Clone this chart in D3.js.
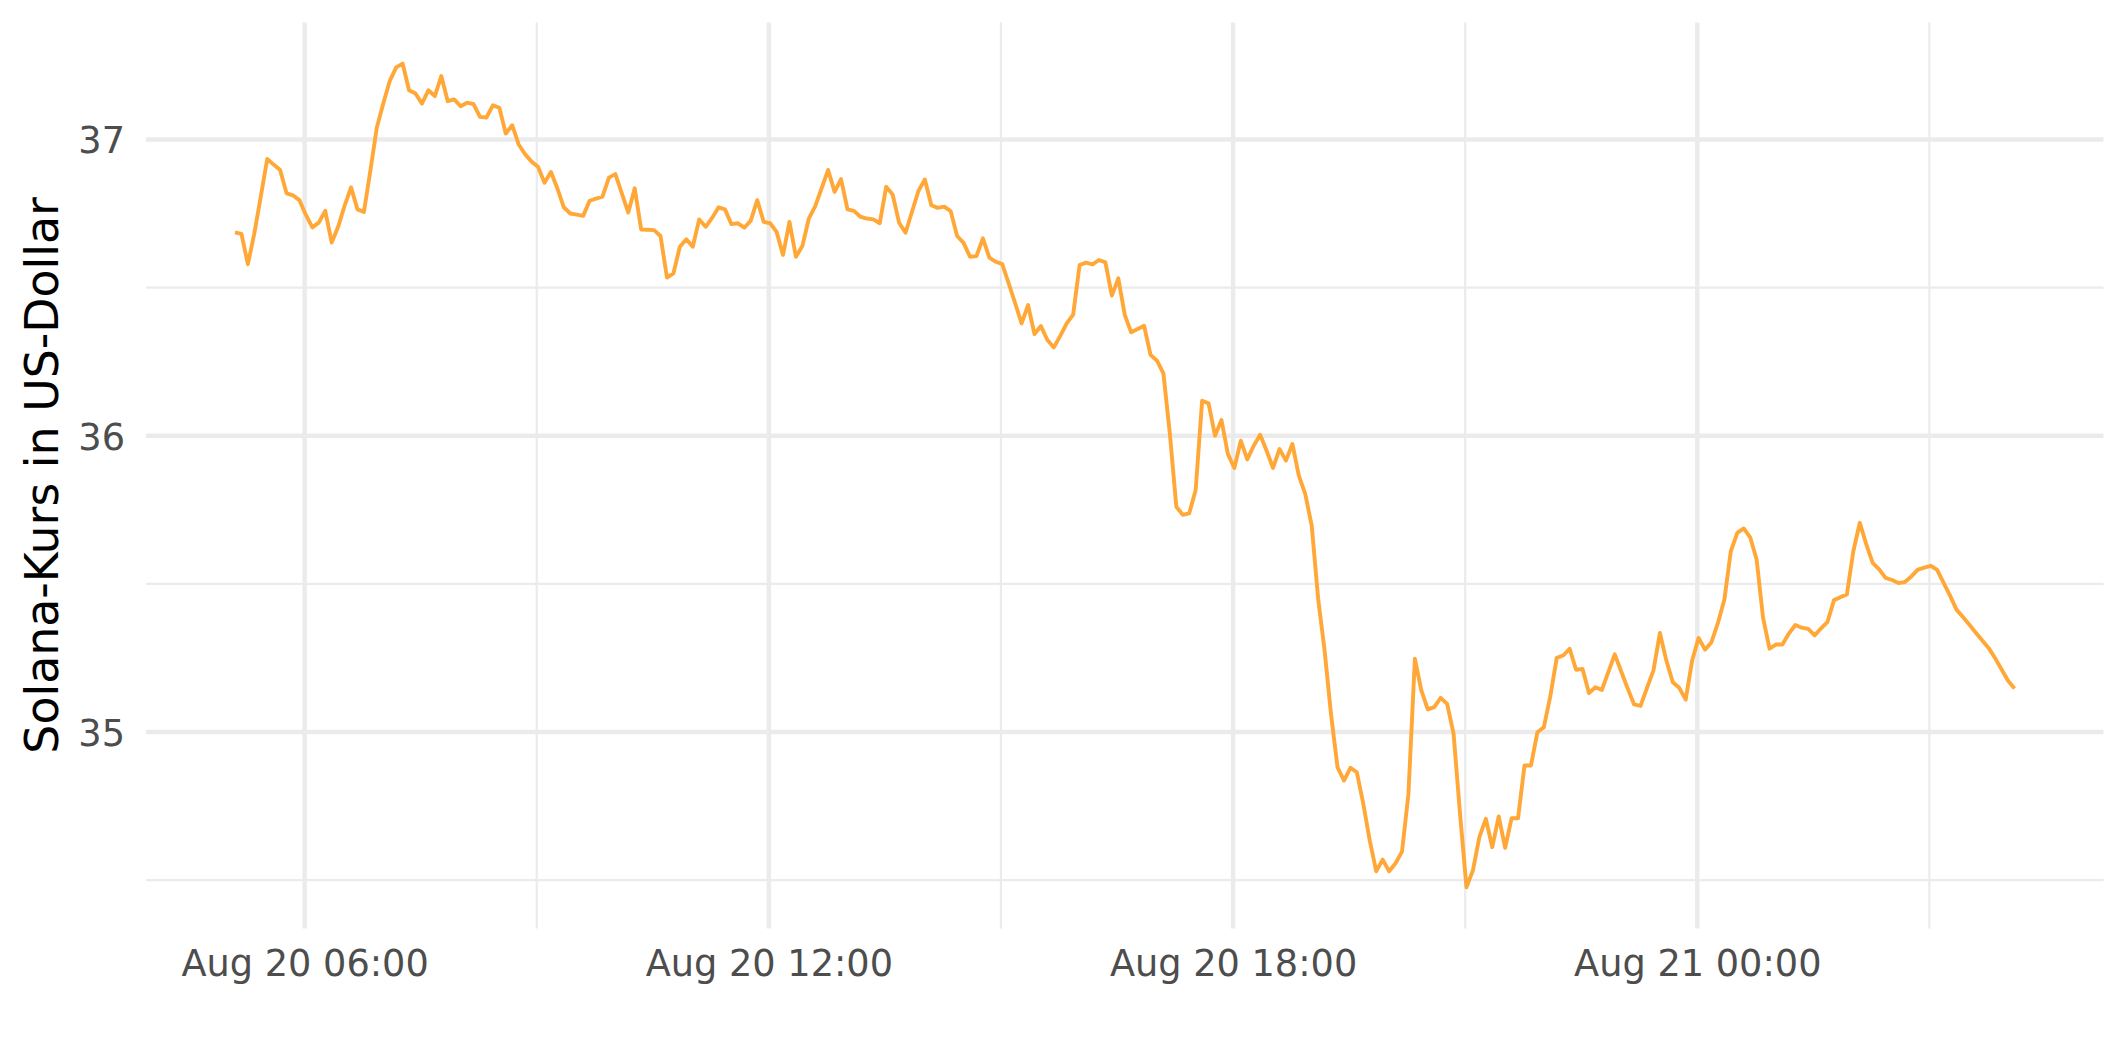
<!DOCTYPE html>
<html>
<head>
<meta charset="utf-8">
<script src="https://cdn.jsdelivr.net/npm/d3@7"></script>
<style>
  html, body { margin: 0; padding: 0; background: #ffffff; }
  svg { display: block; }
</style>
</head>
<body>
<svg id="chart" width="2125" height="1062"></svg>
<script>
// ---------------- data ----------------
const seriesName = "Solana-Kurs in US-Dollar";
const startTime = "2022-08-20T05:06:00Z";   // first observation (UTC)
const stepMinutes = 5;                        // sampling interval
const prices = [
  36.686, 36.681, 36.579, 36.683, 36.807, 36.934, 36.915, 36.897, 36.818, 36.811,
  36.795, 36.745, 36.703, 36.719, 36.759, 36.652, 36.705, 36.776, 36.838, 36.764,
  36.755, 36.895, 37.040, 37.121, 37.197, 37.243, 37.256, 37.166, 37.155, 37.121,
  37.166, 37.146, 37.214, 37.129, 37.135, 37.112, 37.124, 37.119, 37.076, 37.074,
  37.115, 37.107, 37.020, 37.048, 36.983, 36.950, 36.925, 36.908, 36.854, 36.890,
  36.835, 36.771, 36.750, 36.746, 36.742, 36.793, 36.800, 36.807, 36.871, 36.883,
  36.818, 36.753, 36.835, 36.696, 36.695, 36.694, 36.674, 36.534, 36.548, 36.638,
  36.663, 36.638, 36.730, 36.705, 36.735, 36.771, 36.764, 36.714, 36.717, 36.702,
  36.726, 36.795, 36.722, 36.717, 36.688, 36.610, 36.722, 36.604, 36.640, 36.733,
  36.775, 36.836, 36.897, 36.823, 36.866, 36.764, 36.759, 36.739, 36.733, 36.730,
  36.717, 36.840, 36.814, 36.719, 36.685, 36.756, 36.826, 36.865, 36.778, 36.769,
  36.773, 36.758, 36.674, 36.651, 36.604, 36.606, 36.666, 36.601, 36.587, 36.579,
  36.514, 36.447, 36.379, 36.441, 36.343, 36.370, 36.323, 36.298, 36.337, 36.379,
  36.409, 36.576, 36.584, 36.578, 36.593, 36.585, 36.473, 36.531, 36.408, 36.349,
  36.360, 36.371, 36.273, 36.253, 36.210, 36.006, 35.760, 35.733, 35.738, 35.817,
  36.118, 36.109, 36.000, 36.053, 35.938, 35.891, 35.983, 35.920, 35.966, 36.003,
  35.949, 35.891, 35.955, 35.916, 35.972, 35.865, 35.803, 35.696, 35.449, 35.274,
  35.058, 34.881, 34.836, 34.879, 34.864, 34.757, 34.633, 34.530, 34.569, 34.530,
  34.557, 34.596, 34.791, 35.247, 35.140, 35.076, 35.084, 35.115, 35.095, 34.994,
  34.724, 34.476, 34.533, 34.645, 34.707, 34.611, 34.715, 34.609, 34.709, 34.709,
  34.887, 34.887, 34.999, 35.016, 35.120, 35.250, 35.258, 35.281, 35.210, 35.213,
  35.131, 35.151, 35.142, 35.202, 35.262, 35.204, 35.147, 35.093, 35.088, 35.149,
  35.208, 35.334, 35.241, 35.168, 35.149, 35.109, 35.241, 35.317, 35.278, 35.303,
  35.368, 35.447, 35.610, 35.672, 35.687, 35.657, 35.582, 35.385, 35.281, 35.295,
  35.295, 35.332, 35.361, 35.352, 35.348, 35.326, 35.350, 35.372, 35.445, 35.455,
  35.464, 35.610, 35.706, 35.634, 35.571, 35.549, 35.520, 35.513, 35.503, 35.506,
  35.525, 35.548, 35.555, 35.561, 35.547, 35.503, 35.460, 35.413, 35.388, 35.362,
  35.335, 35.309, 35.283, 35.249, 35.211, 35.173, 35.147
];
const xMajorTicks = ["2022-08-20T06:00:00Z", "2022-08-20T12:00:00Z", "2022-08-20T18:00:00Z", "2022-08-21T00:00:00Z"];
const xMinorTicks = ["2022-08-20T09:00:00Z", "2022-08-20T15:00:00Z", "2022-08-20T21:00:00Z", "2022-08-21T03:00:00Z"];
const yMajorTicks = [35, 36, 37];
const yMinorTicks = [34.5, 35.5, 36.5];
const xTickFormat = "%b %d %H:%M";

// ---------------- layout ----------------
const W = 2125, H = 1062;
const panel = { left: 146, right: 2103.5, top: 22.4, bottom: 928.4 };
const lineColor = "#FFA838";
const gridColor = "#EBEBEB";
const font = "'DejaVu Sans', sans-serif";

const t0 = new Date(startTime).getTime();
const data = prices.map((v, i) => ({ t: new Date(t0 + i * stepMinutes * 60000), v }));

const svg = d3.select("#chart");
svg.append("rect").attr("width", W).attr("height", H).attr("fill", "#ffffff");

// scales with ggplot-like 5% expansion
const tExt = d3.extent(data, d => d.t);
const tPad = (tExt[1] - tExt[0]) * 0.05;
const x = d3.scaleUtc()
  .domain([new Date(+tExt[0] - tPad), new Date(+tExt[1] + tPad)])
  .range([panel.left, panel.right]);

const vExt = d3.extent(data, d => d.v);
const vPad = (vExt[1] - vExt[0]) * 0.05;
const y = d3.scaleLinear()
  .domain([vExt[0] - vPad, vExt[1] + vPad])
  .range([panel.bottom, panel.top]);

const toDate = s => new Date(s);

// ---------------- grid ----------------
const grid = svg.append("g");
// minor
grid.selectAll("line.ymin").data(yMinorTicks).join("line")
  .attr("x1", panel.left).attr("x2", panel.right)
  .attr("y1", d => y(d)).attr("y2", d => y(d))
  .attr("stroke", gridColor).attr("stroke-width", 2.2);
grid.selectAll("line.xmin").data(xMinorTicks.map(toDate)).join("line")
  .attr("class", "xmin")
  .attr("y1", panel.top).attr("y2", panel.bottom)
  .attr("x1", d => x(d)).attr("x2", d => x(d))
  .attr("stroke", gridColor).attr("stroke-width", 2.2);
// major
grid.selectAll("line.ymaj").data(yMajorTicks).join("line")
  .attr("class", "ymaj")
  .attr("x1", panel.left).attr("x2", panel.right)
  .attr("y1", d => y(d)).attr("y2", d => y(d))
  .attr("stroke", gridColor).attr("stroke-width", 4.45);
grid.selectAll("line.xmaj").data(xMajorTicks.map(toDate)).join("line")
  .attr("class", "xmaj")
  .attr("y1", panel.top).attr("y2", panel.bottom)
  .attr("x1", d => x(d)).attr("x2", d => x(d))
  .attr("stroke", gridColor).attr("stroke-width", 4.45);

// ---------------- line ----------------
const line = d3.line().x(d => x(d.t)).y(d => y(d.v));
svg.append("path")
  .datum(data)
  .attr("d", line)
  .attr("fill", "none")
  .attr("stroke", lineColor)
  .attr("stroke-width", 3.9)
  .attr("stroke-linejoin", "round")
  .attr("stroke-linecap", "butt");

// ---------------- axes ----------------
const xAxis = d3.axisBottom(x)
  .tickValues(xMajorTicks.map(toDate))
  .tickFormat(d3.utcFormat(xTickFormat))
  .tickSize(0)
  .tickPadding(21.6);
const gx = svg.append("g").attr("transform", `translate(0,${panel.bottom})`).call(xAxis);
gx.select(".domain").remove();
gx.selectAll("text")
  .attr("font-family", font).attr("font-size", 36.7).attr("fill", "#4D4D4D");

const yAxis = d3.axisLeft(y)
  .tickValues(yMajorTicks)
  .tickFormat(d3.format("d"))
  .tickSize(0)
  .tickPadding(21);
const gy = svg.append("g").attr("transform", `translate(${panel.left},0)`).call(yAxis);
gy.select(".domain").remove();
gy.selectAll("text")
  .attr("dy", "0.365em")
  .attr("font-family", font).attr("font-size", 36.7).attr("fill", "#4D4D4D");

// ---------------- y title ----------------
svg.append("text")
  .attr("transform", `translate(57.5,${(panel.top + panel.bottom) / 2}) rotate(-90)`)
  .attr("text-anchor", "middle")
  .attr("font-family", font)
  .attr("font-size", 45.8)
  .attr("fill", "#000000")
  .text(seriesName);
</script>
</body>
</html>
